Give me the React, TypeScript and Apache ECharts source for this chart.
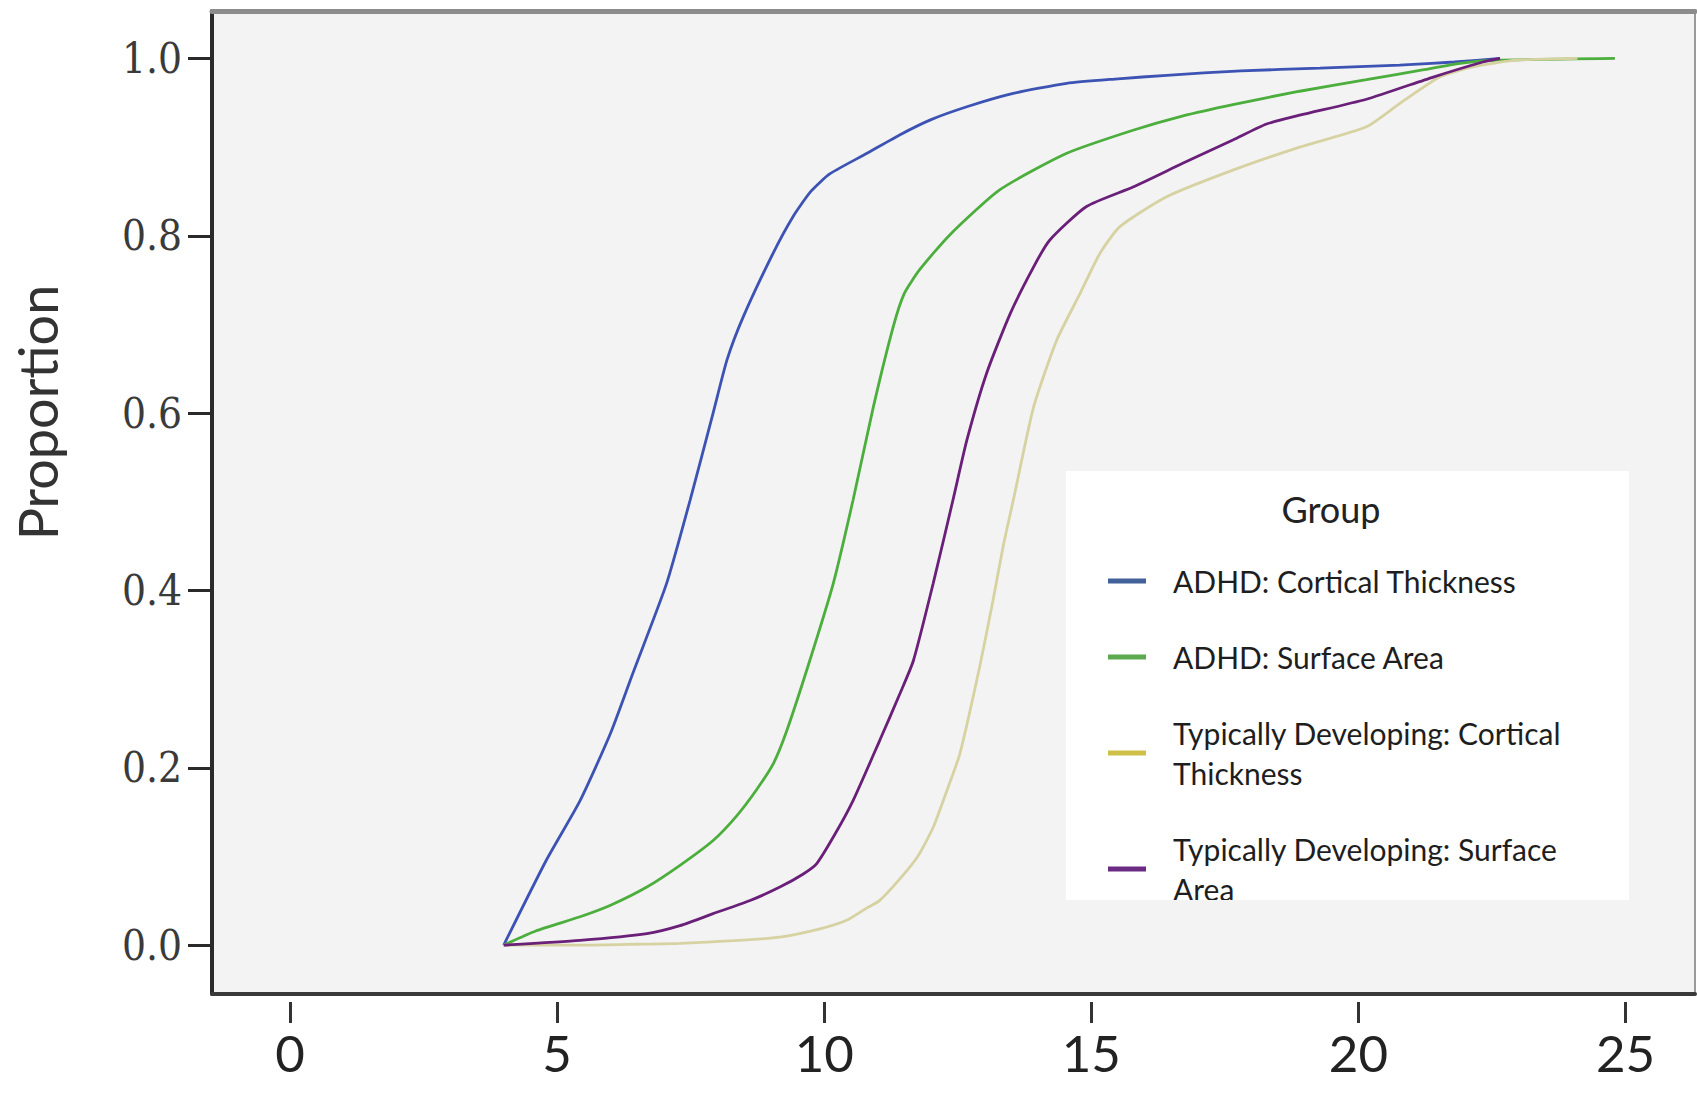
import React, { useEffect, useRef } from "react";
import * as echarts from "echarts";

const seriesNames = [
  "ADHD: Cortical Thickness",
  "ADHD: Surface Area",
  "Typically Developing: Cortical Thickness",
  "Typically Developing: Surface Area",
];
const legendLabels = [
  "ADHD: Cortical Thickness",
  "ADHD: Surface Area",
  "Typically Developing: Cortical\nThickness",
  "Typically Developing: Surface\nArea",
];
const lineColors = ["#3d53b4", "#4cae3c", "#d6d2a2", "#6a1f79"];
const legendColors = ["#42609a", "#5daa4e", "#cdbf48", "#6b2b83"];

const xTicks = [0, 5, 10, 15, 20, 25];
const yTicks = [0, 0.2, 0.4, 0.6, 0.8, 1.0];

const adhdCorticalThickness: [number, number][] = [
  [4.0, 0], [4.8, 0.096], [5.43, 0.163], [6.0, 0.239], [6.42, 0.307], [7.05, 0.408],
  [7.49, 0.502], [7.92, 0.6], [8.18, 0.66], [8.48, 0.708], [9.04, 0.78], [9.41, 0.821],
  [9.75, 0.85], [10.11, 0.87], [10.8, 0.893], [11.42, 0.914], [12.0, 0.931], [12.67, 0.9455],
  [13.5, 0.96], [14.54, 0.972], [15.5, 0.977], [16.41, 0.981], [17.8, 0.986], [19.28, 0.989],
  [20.77, 0.9925], [21.8, 0.996], [22.65, 1.0],
];
const adhdSurfaceArea: [number, number][] = [
  [4.0, 0], [4.6, 0.016], [5.43, 0.032], [6.0, 0.045], [6.68, 0.0655], [7.3, 0.09],
  [7.92, 0.118], [8.35, 0.145], [8.73, 0.175], [9.05, 0.205], [9.3, 0.242], [9.73, 0.321],
  [10.17, 0.408], [10.54, 0.502], [10.92, 0.607], [11.29, 0.697], [11.5, 0.735], [11.79, 0.762],
  [12.35, 0.801], [13.29, 0.852], [14.54, 0.893], [15.78, 0.919], [16.7, 0.935], [17.65, 0.948],
  [18.9, 0.963], [20.15, 0.976], [21.2, 0.987], [21.9, 0.9945], [22.6, 0.998], [24.8, 1.0],
];
const tdCorticalThickness: [number, number][] = [
  [4.0, 0], [5.5, 0.0], [6.5, 0.001], [7.3, 0.002], [8.3, 0.005], [9.17, 0.009],
  [9.9, 0.018], [10.42, 0.028], [10.8, 0.042], [11.04, 0.0505], [11.42, 0.075], [11.75, 0.1],
  [12.04, 0.133], [12.3, 0.175], [12.54, 0.216], [12.91, 0.314], [13.16, 0.389], [13.35, 0.45],
  [13.54, 0.502], [13.92, 0.607], [14.35, 0.682], [14.79, 0.735], [15.16, 0.78], [15.53, 0.81],
  [16.41, 0.844], [17.65, 0.874], [18.9, 0.9], [20.15, 0.923], [20.77, 0.949], [21.52, 0.979],
  [22.14, 0.9906], [22.96, 0.998], [24.1, 1.0],
];
const tdSurfaceArea: [number, number][] = [
  [4.0, 0], [5.43, 0.0054], [6.68, 0.013], [7.3, 0.022], [7.92, 0.0355], [8.6, 0.05],
  [9.17, 0.0655], [9.6, 0.08], [9.86, 0.092], [10.2, 0.125], [10.54, 0.163], [11.04, 0.231],
  [11.42, 0.284], [11.67, 0.321], [12.04, 0.408], [12.41, 0.502], [12.67, 0.5695], [13.04, 0.645],
  [13.48, 0.712], [13.92, 0.765], [14.22, 0.795], [14.91, 0.833], [15.78, 0.855], [16.72, 0.882],
  [17.65, 0.908], [18.28, 0.926], [18.9, 0.936], [20.15, 0.954], [21.4, 0.979], [22.33, 0.996],
  [22.65, 1.0],
];

const seriesData = [adhdCorticalThickness, adhdSurfaceArea, tdCorticalThickness, tdSurfaceArea];

const X_MIN = -1.46;
const X_MAX = 26.3;
const Y_MIN = -0.0551;
const Y_MAX = 1.0535;

export default function App() {
  const ref = useRef<HTMLDivElement>(null);
  useEffect(() => {
    if (!ref.current) return;
    const chart = echarts.init(ref.current, undefined, { renderer: "svg" });
    const hidden = { show: false };
    const option: any = {
      animation: false,
      backgroundColor: "#ffffff",
      grid: {
        left: 212,
        top: 11,
        right: 2,
        bottom: 111,
        show: true,
        backgroundColor: "#f3f3f3",
        borderWidth: 0,
      },
      xAxis: [
        {
          type: "value",
          min: X_MIN,
          max: X_MAX,
          position: "bottom",
          axisLine: { show: true, onZero: false, lineStyle: { color: "#3a3a3a", width: 4 } },
          axisTick: hidden,
          axisLabel: hidden,
          splitLine: hidden,
        },
        {
          type: "value",
          min: X_MIN,
          max: X_MAX,
          position: "bottom",
          offset: 8,
          axisLine: { show: false, onZero: false },
          axisTick: {
            show: true,
            length: 21,
            customValues: xTicks,
            lineStyle: { color: "#333333", width: 3 },
          },
          axisLabel: {
            show: true,
            customValues: xTicks,
            margin: 28,
            fontSize: 51,
            lineHeight: 44,
            fontFamily: "Lato",
            color: "#222222",
          },
          splitLine: hidden,
        },
        {
          type: "value",
          min: X_MIN,
          max: X_MAX,
          position: "top",
          axisLine: { show: true, onZero: false, lineStyle: { color: "#8c8c8c", width: 5 } },
          axisTick: hidden,
          axisLabel: hidden,
          splitLine: hidden,
        },
      ],
      yAxis: [
        {
          type: "value",
          min: Y_MIN,
          max: Y_MAX,
          position: "left",
          axisLine: { show: true, onZero: false, lineStyle: { color: "#2a2a2a", width: 4 } },
          axisTick: {
            show: true,
            length: 24,
            customValues: yTicks,
            lineStyle: { color: "#2a2a2a", width: 3 },
          },
          axisLabel: {
            show: true,
            customValues: yTicks,
            formatter: (v: number) => v.toFixed(1),
            margin: 30,
            fontSize: 42,
            fontFamily: '"DejaVu Serif Condensed", "Liberation Serif", serif',
            color: "#3a3a3a",
          },
          splitLine: hidden,
          name: "Proportion",
          nameLocation: "middle",
          nameRotate: 90,
          nameGap: 148,
          nameTextStyle: {
            fontSize: 54,
            fontFamily: "Lato",
            color: "#333333",
            padding: [0, 0, 0, 180],
          },
        },
        {
          type: "value",
          min: Y_MIN,
          max: Y_MAX,
          position: "right",
          axisLine: { show: true, onZero: false, lineStyle: { color: "#9a9a9a", width: 2 } },
          axisTick: hidden,
          axisLabel: hidden,
          splitLine: hidden,
        },
      ],
      legend: {
        orient: "vertical",
        left: 1108,
        top: 561,
        padding: 0,
        itemGap: 36,
        itemWidth: 38,
        itemHeight: 5,
        icon: "rect",
        selectedMode: false,
        data: seriesNames.map((n, i) => ({ name: n, itemStyle: { color: legendColors[i] } })),
        formatter: (n: string) => legendLabels[seriesNames.indexOf(n)],
        textStyle: {
          fontFamily: "Lato",
          fontSize: 30,
          lineHeight: 40,
          color: "#1e1e1e",
          padding: [0, 0, 0, 22],
        },
      },
      graphic: [
        {
          type: "rect",
          z: 3,
          shape: { x: 1066, y: 471, width: 563, height: 429 },
          style: { fill: "#ffffff" },
        },
        {
          type: "text",
          z: 5,
          x: 1331,
          y: 509,
          style: {
            text: "Group",
            fontSize: 36,
            fontFamily: "Lato",
            fill: "#222222",
            align: "center",
            verticalAlign: "middle",
          },
        },
        {
          type: "rect",
          z: 10,
          shape: { x: 1066, y: 900, width: 563, height: 14 },
          style: { fill: "#f3f3f3" },
        },
      ],
      series: seriesNames.map((name, i) => ({
        name,
        type: "line",
        xAxisIndex: 0,
        yAxisIndex: 0,
        data: seriesData[i],
        showSymbol: false,
        symbol: "none",
        smooth: 0.2,
        color: lineColors[i],
        lineStyle: { color: lineColors[i], width: 2.8 },
      })),
    };
    chart.setOption(option);
    return () => chart.dispose();
  }, []);
  return (
    <div
      ref={ref}
      style={{ position: "absolute", left: 0, top: 0, width: "1697px", height: "1105px" }}
    />
  );
}
